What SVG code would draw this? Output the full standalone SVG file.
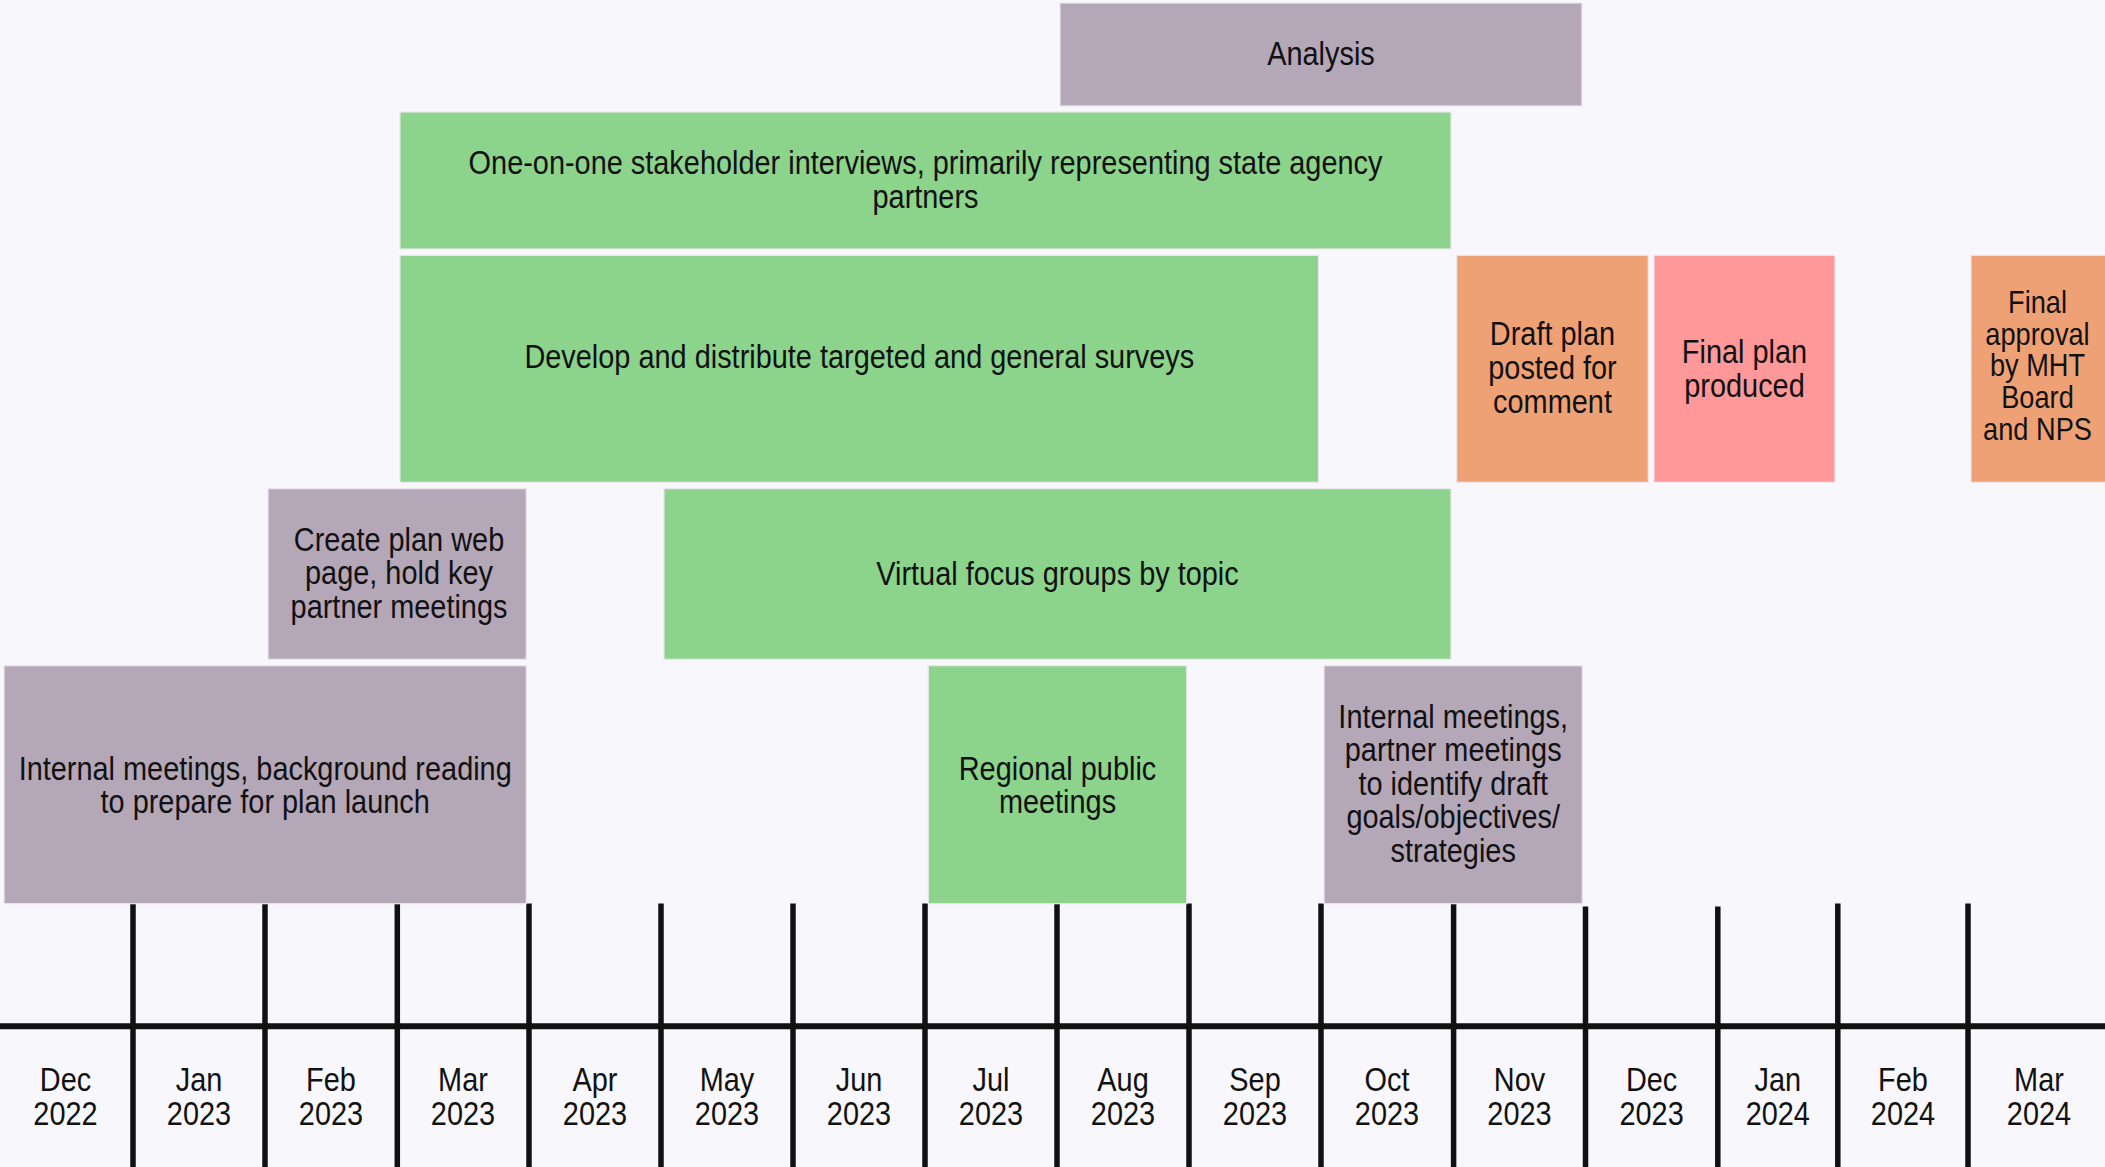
<svg xmlns="http://www.w3.org/2000/svg" width="2105" height="1167" viewBox="0 0 2105 1167">
<style>
.bg{fill:#f8f7fc}
.box{stroke:#ebe6ef;stroke-width:1.2}
.p{fill:#b4a7b8}
.g{fill:#8cd38b}
.o{fill:#efa176}
.k{fill:#ff9898}
.t{font-family:"Liberation Sans",Arial,sans-serif;font-size:34px;fill:#111;text-anchor:middle}
.s{font-size:32px}
.ax{stroke:#111;stroke-width:5.5;fill:none}
.hx{stroke:#111;stroke-width:6;fill:none}
</style>
<rect class="bg" x="0" y="0" width="2105" height="1167"/>

<g id="axis">
  <line class="hx" x1="0" y1="1026.3" x2="2105" y2="1026.3"/>
  <line class="ax" x1="133" y1="903.5" x2="133" y2="1167"/>
  <line class="ax" x1="265" y1="903.5" x2="265" y2="1167"/>
  <line class="ax" x1="397.3" y1="903.5" x2="397.3" y2="1167"/>
  <line class="ax" x1="529" y1="903.5" x2="529" y2="1167"/>
  <line class="ax" x1="661" y1="903.5" x2="661" y2="1167"/>
  <line class="ax" x1="793" y1="903.5" x2="793" y2="1167"/>
  <line class="ax" x1="925" y1="903.5" x2="925" y2="1167"/>
  <line class="ax" x1="1057" y1="903.5" x2="1057" y2="1167"/>
  <line class="ax" x1="1189" y1="903.5" x2="1189" y2="1167"/>
  <line class="ax" x1="1321" y1="903.5" x2="1321" y2="1167"/>
  <line class="ax" x1="1453.6" y1="903.5" x2="1453.6" y2="1167"/>
  <line class="ax" x1="1585.5" y1="906.5" x2="1585.5" y2="1167"/>
  <line class="ax" x1="1717.8" y1="906.5" x2="1717.8" y2="1167"/>
  <line class="ax" x1="1837.8" y1="903.5" x2="1837.8" y2="1167"/>
  <line class="ax" x1="1968" y1="903.5" x2="1968" y2="1167"/>
</g>

<g id="axis-labels">
  <text class="t" transform="translate(65.5,0) scale(0.85,1)"><tspan x="0" y="1091">Dec</tspan><tspan x="0" y="1125">2022</tspan></text>
  <text class="t" transform="translate(199,0) scale(0.85,1)"><tspan x="0" y="1091">Jan</tspan><tspan x="0" y="1125">2023</tspan></text>
  <text class="t" transform="translate(331,0) scale(0.85,1)"><tspan x="0" y="1091">Feb</tspan><tspan x="0" y="1125">2023</tspan></text>
  <text class="t" transform="translate(463,0) scale(0.85,1)"><tspan x="0" y="1091">Mar</tspan><tspan x="0" y="1125">2023</tspan></text>
  <text class="t" transform="translate(595,0) scale(0.85,1)"><tspan x="0" y="1091">Apr</tspan><tspan x="0" y="1125">2023</tspan></text>
  <text class="t" transform="translate(727,0) scale(0.85,1)"><tspan x="0" y="1091">May</tspan><tspan x="0" y="1125">2023</tspan></text>
  <text class="t" transform="translate(859,0) scale(0.85,1)"><tspan x="0" y="1091">Jun</tspan><tspan x="0" y="1125">2023</tspan></text>
  <text class="t" transform="translate(991,0) scale(0.85,1)"><tspan x="0" y="1091">Jul</tspan><tspan x="0" y="1125">2023</tspan></text>
  <text class="t" transform="translate(1123,0) scale(0.85,1)"><tspan x="0" y="1091">Aug</tspan><tspan x="0" y="1125">2023</tspan></text>
  <text class="t" transform="translate(1255,0) scale(0.85,1)"><tspan x="0" y="1091">Sep</tspan><tspan x="0" y="1125">2023</tspan></text>
  <text class="t" transform="translate(1387,0) scale(0.85,1)"><tspan x="0" y="1091">Oct</tspan><tspan x="0" y="1125">2023</tspan></text>
  <text class="t" transform="translate(1519.5,0) scale(0.85,1)"><tspan x="0" y="1091">Nov</tspan><tspan x="0" y="1125">2023</tspan></text>
  <text class="t" transform="translate(1651.6,0) scale(0.85,1)"><tspan x="0" y="1091">Dec</tspan><tspan x="0" y="1125">2023</tspan></text>
  <text class="t" transform="translate(1777.8,0) scale(0.85,1)"><tspan x="0" y="1091">Jan</tspan><tspan x="0" y="1125">2024</tspan></text>
  <text class="t" transform="translate(1903,0) scale(0.85,1)"><tspan x="0" y="1091">Feb</tspan><tspan x="0" y="1125">2024</tspan></text>
  <text class="t" transform="translate(2039,0) scale(0.85,1)"><tspan x="0" y="1091">Mar</tspan><tspan x="0" y="1125">2024</tspan></text>
</g>

<g id="analysis">
  <rect class="box p" x="1060" y="3" width="522" height="103"/>
  <text class="t" transform="translate(1321,0) scale(0.85,1)"><tspan x="0" y="65">Analysis</tspan></text>
</g>

<g id="interviews">
  <rect class="box g" x="400" y="112" width="1051" height="137"/>
  <text class="t" transform="translate(925.5,0) scale(0.85,1)"><tspan x="0" y="174">One-on-one stakeholder interviews, primarily representing state agency</tspan><tspan x="0" y="208">partners</tspan></text>
</g>

<g id="surveys">
  <rect class="box g" x="400" y="255.3" width="918.5" height="227"/>
  <text class="t" transform="translate(859.3,0) scale(0.85,1)"><tspan x="0" y="367.7">Develop and distribute targeted and general surveys</tspan></text>
</g>

<g id="draft-plan">
  <rect class="box o" x="1456.7" y="255.3" width="191.6" height="227"/>
  <text class="t" transform="translate(1552.5,0) scale(0.85,1)"><tspan x="0" y="345">Draft plan</tspan><tspan x="0" y="379">posted for</tspan><tspan x="0" y="412.7">comment</tspan></text>
</g>

<g id="final-plan">
  <rect class="box k" x="1654" y="255.3" width="181" height="227"/>
  <text class="t" transform="translate(1744.5,0) scale(0.85,1)"><tspan x="0" y="362.7">Final plan</tspan><tspan x="0" y="396.7">produced</tspan></text>
</g>

<g id="final-approval">
  <rect class="box o" x="1971" y="255.3" width="140" height="227"/>
  <text class="t s" transform="translate(2037.5,0) scale(0.85,1)"><tspan x="0" y="313.3">Final</tspan><tspan x="0" y="345">approval</tspan><tspan x="0" y="376.5">by MHT</tspan><tspan x="0" y="408.2">Board</tspan><tspan x="0" y="440">and NPS</tspan></text>
</g>

<g id="web-page">
  <rect class="box p" x="268" y="488.7" width="258.3" height="170.6"/>
  <text class="t" transform="translate(399,0) scale(0.85,1)"><tspan x="0" y="550.7">Create plan web</tspan><tspan x="0" y="584.3">page, hold key</tspan><tspan x="0" y="618">partner meetings</tspan></text>
</g>

<g id="focus-groups">
  <rect class="box g" x="664" y="488.7" width="787" height="170.6"/>
  <text class="t" transform="translate(1057.5,0) scale(0.85,1)"><tspan x="0" y="585">Virtual focus groups by topic</tspan></text>
</g>

<g id="internal-launch">
  <rect class="box p" x="4" y="665.7" width="522.3" height="238"/>
  <text class="t" transform="translate(265.2,0) scale(0.85,1)"><tspan x="0" y="780">Internal meetings, background reading</tspan><tspan x="0" y="813.3">to prepare for plan launch</tspan></text>
</g>

<g id="regional">
  <rect class="box g" x="928.3" y="665.7" width="258.4" height="238"/>
  <text class="t" transform="translate(1057.5,0) scale(0.85,1)"><tspan x="0" y="780">Regional public</tspan><tspan x="0" y="813.3">meetings</tspan></text>
</g>

<g id="internal-goals">
  <rect class="box p" x="1324" y="665.7" width="258.3" height="238"/>
  <text class="t" transform="translate(1453.2,0) scale(0.85,1)"><tspan x="0" y="727.7">Internal meetings,</tspan><tspan x="0" y="761.2">partner meetings</tspan><tspan x="0" y="794.7">to identify draft</tspan><tspan x="0" y="828.2">goals/objectives/</tspan><tspan x="0" y="861.7">strategies</tspan></text>
</g>
</svg>
